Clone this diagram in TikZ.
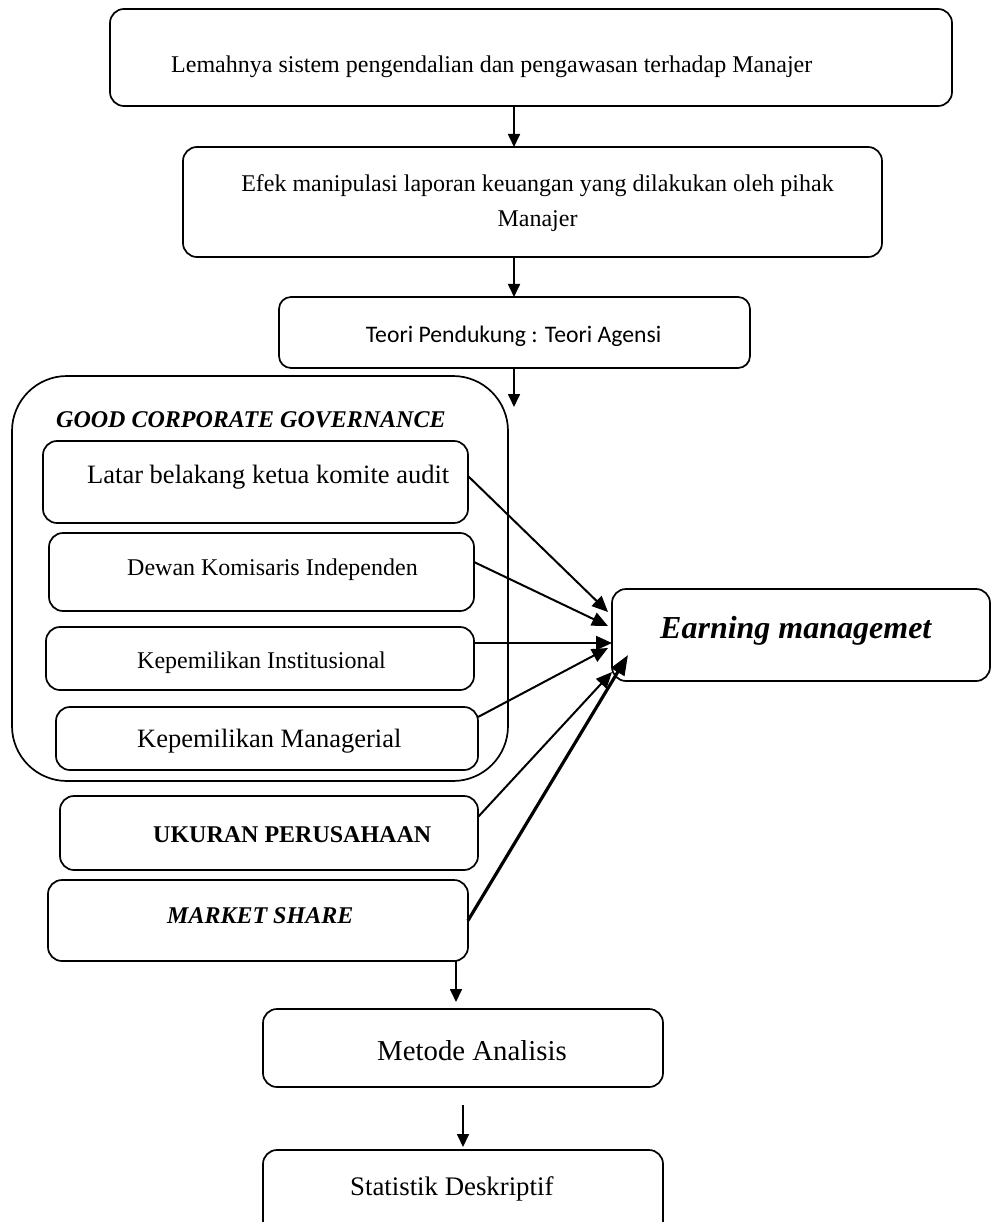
\documentclass[tikz,border=0pt]{standalone}
\usepackage{fontspec}
\setmainfont{Liberation Serif}
\newfontfamily\calibri{Carlito}
\usetikzlibrary{arrows.meta,calc}
\begin{document}
\begin{tikzpicture}[x=1pt,y=-1pt,
  box/.style={draw, line width=1.7pt, rounded corners=14pt, inner sep=0pt, outer sep=0pt},
  arr/.style={line width=1.7pt, -{Triangle[length=13pt,width=12pt]}},
  arrc/.style={line width=2pt, -{Triangle[length=16pt,width=14pt]}},
  arrthick/.style={line width=3.2pt, -{Triangle[length=20pt,width=15pt]}},
  txt/.style={anchor=base west, inner sep=0pt, font=\fontsize{24}{28}\selectfont}]
\clip (0,0) rectangle (991,1222);
\fill[white] (0,0) rectangle (991,1222);

% boxes
\node[box, minimum width=842pt, minimum height=97pt] (top) at (531,57.5) {};
\node[box, minimum width=699pt, minimum height=110pt] (efek) at (532.5,202) {};
\node[box, minimum width=471pt, minimum height=71pt, rounded corners=12pt] (teori) at (514.5,332.5) {};
\node[box, minimum width=496pt, minimum height=405pt, rounded corners=55pt] (gcg) at (260,578.5) {};
\node[box, minimum width=425pt, minimum height=82pt] (latar) at (255.5,482) {};
\node[box, minimum width=425pt, minimum height=78pt] (dewan) at (261.5,572) {};
\node[box, minimum width=428pt, minimum height=63pt] (inst) at (260,658.5) {};
\node[box, minimum width=422pt, minimum height=63pt] (manag) at (267,738.5) {};
\node[box, minimum width=418pt, minimum height=74pt] (ukuran) at (269,833) {};
\node[box, minimum width=420pt, minimum height=81pt] (market) at (258,920.5) {};
\node[box, minimum width=378pt, minimum height=92pt] (em) at (801,635) {};
\node[box, minimum width=400pt, minimum height=78pt] (metode) at (463,1048) {};
\node[box, minimum width=400pt, minimum height=100pt] (stat) at (463,1200) {};

% texts
\node[txt] (ttop) at (171,73) {Lemahnya sistem pengendalian dan pengawasan terhadap Manajer};
\node[txt, anchor=base] (tefek1) at (537.5,192) {Efek manipulasi laporan keuangan yang dilakukan oleh pihak};
\node[txt, anchor=base] (tefek2) at (537.5,227) {Manajer};
\node[txt, anchor=base, font=\calibri\fontsize{23.7}{28}\selectfont] (tteori) at (513.5,342) {Teori Pendukung : Teori Agensi};
\node[txt, font=\fontsize{24}{28}\selectfont\bfseries\itshape] (tgcg) at (56,427) {GOOD CORPORATE GOVERNANCE};
\node[txt, font=\fontsize{26.5}{30}\selectfont] (tlatar) at (87,483) {Latar belakang ketua komite audit};
\node[txt] (tdewan) at (127,575) {Dewan Komisaris Independen};
\node[txt] (tinst) at (137,668) {Kepemilikan Institusional};
\node[txt, font=\fontsize{26.5}{30}\selectfont] (tmanag) at (137,747) {Kepemilikan Managerial};
\node[txt, font=\fontsize{24}{28}\selectfont\bfseries] (tukuran) at (153,842) {UKURAN PERUSAHAAN};
\node[txt, font=\fontsize{24}{28}\selectfont\bfseries\itshape] (tmarket) at (167,923) {MARKET SHARE};
\node[txt, font=\fontsize{32}{36}\selectfont\bfseries\itshape] (tem) at (660,638) {Earning managemet};
\node[txt, font=\fontsize{28.8}{32}\selectfont] (tmetode) at (377,1060) {Metode Analisis};
\node[txt, font=\fontsize{26.8}{30}\selectfont] (tstat) at (350,1195) {Statistik Deskriptif};

% vertical arrows
\coordinate (ax) at (514,0);
\coordinate (bx) at (456,0);
\coordinate (g) at (514,407);
\draw[arr] (top.south -| ax) -- (efek.north -| ax);
\draw[arr] (efek.south -| ax) -- (teori.north -| ax);
\draw[arr] (teori.south -| ax) -- (g);
\draw[arr, shorten >=7pt] (market.south -| bx) -- (metode.north -| bx);
\draw[arr, shorten <=18pt, shorten >=3pt] (metode.south) -- (stat.north);

% converging arrows
\coordinate (t1) at (608,612);
\coordinate (t2) at (608,626);
\coordinate (t3) at (612,643);
\coordinate (t4) at (608,648);
\coordinate (t5) at (612,672);
\coordinate (t6) at (628,655);
\draw[arrc] ([yshift=6pt]latar.east) -- (t1);
\draw[arrc] ([yshift=10pt]dewan.east) -- (t2);
\draw[arrc] ([yshift=15.5pt]inst.east) -- (t3);
\draw[arrc] ([yshift=21.5pt]manag.east) -- (t4);
\draw[arrc] ([yshift=16pt]ukuran.east) -- (t5);
\draw[arrthick] (market.east) -- (t6);
\end{tikzpicture}
\end{document}
